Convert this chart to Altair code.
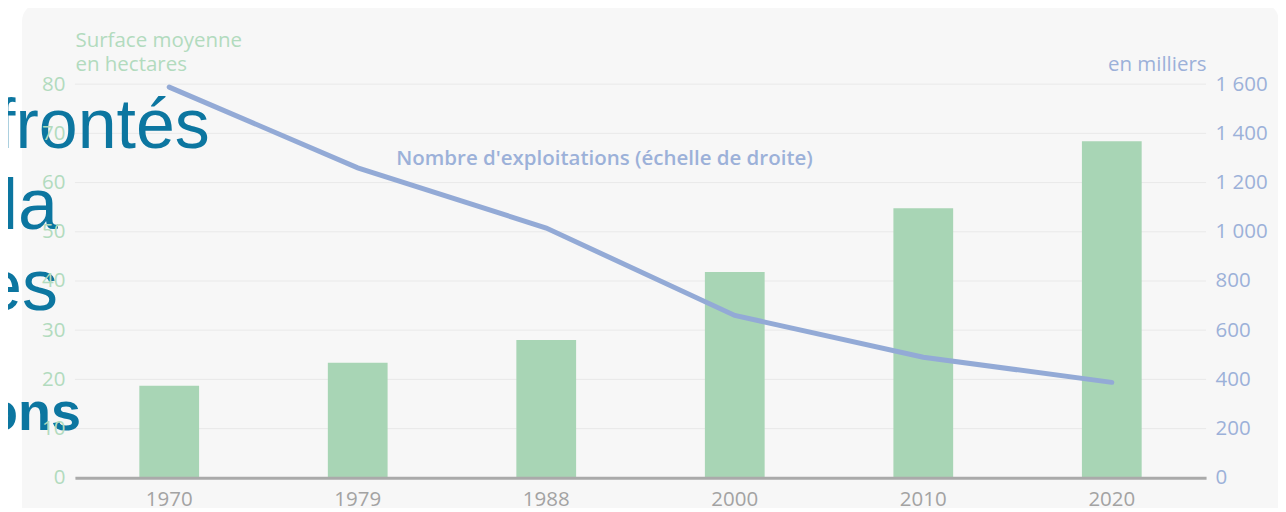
import altair as alt
import pandas as pd

# ---- data ----
years = ["1970", "1979", "1988", "2000", "2010", "2020"]
surface_ha = [18.7, 23.4, 28.0, 41.8, 54.8, 68.4]          # left axis, bars
farms_thousands = [1588, 1260, 1015, 660, 490, 388]        # right axis, line
left_ticks = [0, 10, 20, 30, 40, 50, 60, 70, 80]
right_ticks = [0, 200, 400, 600, 800, 1000, 1200, 1400, 1600]
left_title = ["Surface moyenne", "en hectares"]
right_title = "en milliers"
line_label = "Nombre d'exploitations (échelle de droite)"
overlay_words = ["frontés", "la", "es", "ons"]

df = pd.DataFrame({"year": years, "surface": surface_ha, "farms": farms_thousands})
grid_df = pd.DataFrame({"v": left_ticks})
one = pd.DataFrame({"k": [0]})

FONT = "Open Sans"
FS = 20.5
GREEN = "#a8d5b5"
GREEN_TXT = "#b2dbbe"
BLUE = "#93aad6"
BLUE_TXT = "#9cb1d9"
PAGE_BLUE = "#0c76a0"

W, H = 1132, 394

x_enc = alt.X(
    "year:N", sort=years, title=None,
    scale=alt.Scale(paddingInner=0.683, paddingOuter=0.3415),
    axis=alt.Axis(labelAngle=0, labelFont=FONT, labelFontSize=FS, labelColor="#a3a3a3",
                  labelPadding=12, domainColor="#aaaaaa", domainWidth=3,
                  ticks=False, grid=False, zindex=2),
)

panel = alt.Chart(one).mark_rect(color="#f7f7f7", cornerRadius=18).encode(
    x=alt.value(-53), x2=alt.value(1205), y=alt.value(-81), y2=alt.value(470)
)

grid = alt.Chart(grid_df).mark_rule(color="#e9e9e9", strokeWidth=1).encode(
    y=alt.Y("v:Q", scale=alt.Scale(domain=[0, 80], nice=False), axis=None)
)

bars = alt.Chart(df).mark_bar(color=GREEN).encode(
    x=x_enc,
    y=alt.Y("surface:Q", scale=alt.Scale(domain=[0, 80], nice=False),
            axis=alt.Axis(values=left_ticks, orient="left", domain=False, ticks=False, grid=False,
                          labelFont=FONT, labelFontSize=FS, labelColor=GREEN_TXT, labelPadding=10,
                          title=left_title, titleFont=FONT, titleFontSize=FS, titleFontWeight="normal",
                          titleColor=GREEN_TXT, titleAngle=0, titleX=0, titleY=-38,
                          titleAlign="left", titleBaseline="alphabetic", titleLineHeight=24, zindex=1)),
)

line = alt.Chart(df).mark_line(color=BLUE, strokeWidth=5, strokeCap="round").encode(
    x=x_enc,
    y=alt.Y("farms:Q", scale=alt.Scale(domain=[0, 1600], nice=False),
            axis=alt.Axis(values=right_ticks, orient="right", domain=False, ticks=False, grid=False,
                          labelExpr="replace(format(datum.value, ','), ',', ' ')",
                          labelFont=FONT, labelFontSize=FS, labelColor=BLUE_TXT, labelPadding=9,
                          title=right_title, titleFont=FONT, titleFontSize=FS, titleFontWeight="normal",
                          titleColor=BLUE_TXT, titleAngle=0, titleX=0, titleY=-14,
                          titleAlign="right", titleBaseline="alphabetic", zindex=1)),
)

annot = alt.Chart(pd.DataFrame({"t": [line_label]})).mark_text(
    font=FONT, fontSize=FS, fontWeight=600, color=BLUE_TXT, align="center", baseline="alphabetic"
).encode(text="t:N", x=alt.value(530), y=alt.value(81))

def page_word(word, xr, yb, size, weight):
    return alt.Chart(pd.DataFrame({"t": [word]})).mark_text(
        font="Liberation Sans", fontSize=size, fontWeight=weight, color=PAGE_BLUE,
        align="right", baseline="alphabetic"
    ).encode(text="t:N", x=alt.value(xr), y=alt.value(yb))

w1 = page_word(overlay_words[0], 135, 64, 70, "normal")
w2 = page_word(overlay_words[1], -17, 145, 72, "normal")
w3 = page_word(overlay_words[2], -17, 226, 72, "normal")
w4 = page_word(overlay_words[3], 6, 346, 54, "bold")

chart = alt.layer(panel, grid, bars, line, annot, w1, w2, w3, w4).resolve_scale(
    y="independent"
).properties(
    width=W, height=H,
    autosize=alt.AutoSizeParams(type="none"),
    padding={"left": 67, "top": 76, "right": 72, "bottom": 30},
    background="white",
).configure_view(stroke=None)

chart.save("out.html", embed_options={"renderer": "svg", "actions": False})
